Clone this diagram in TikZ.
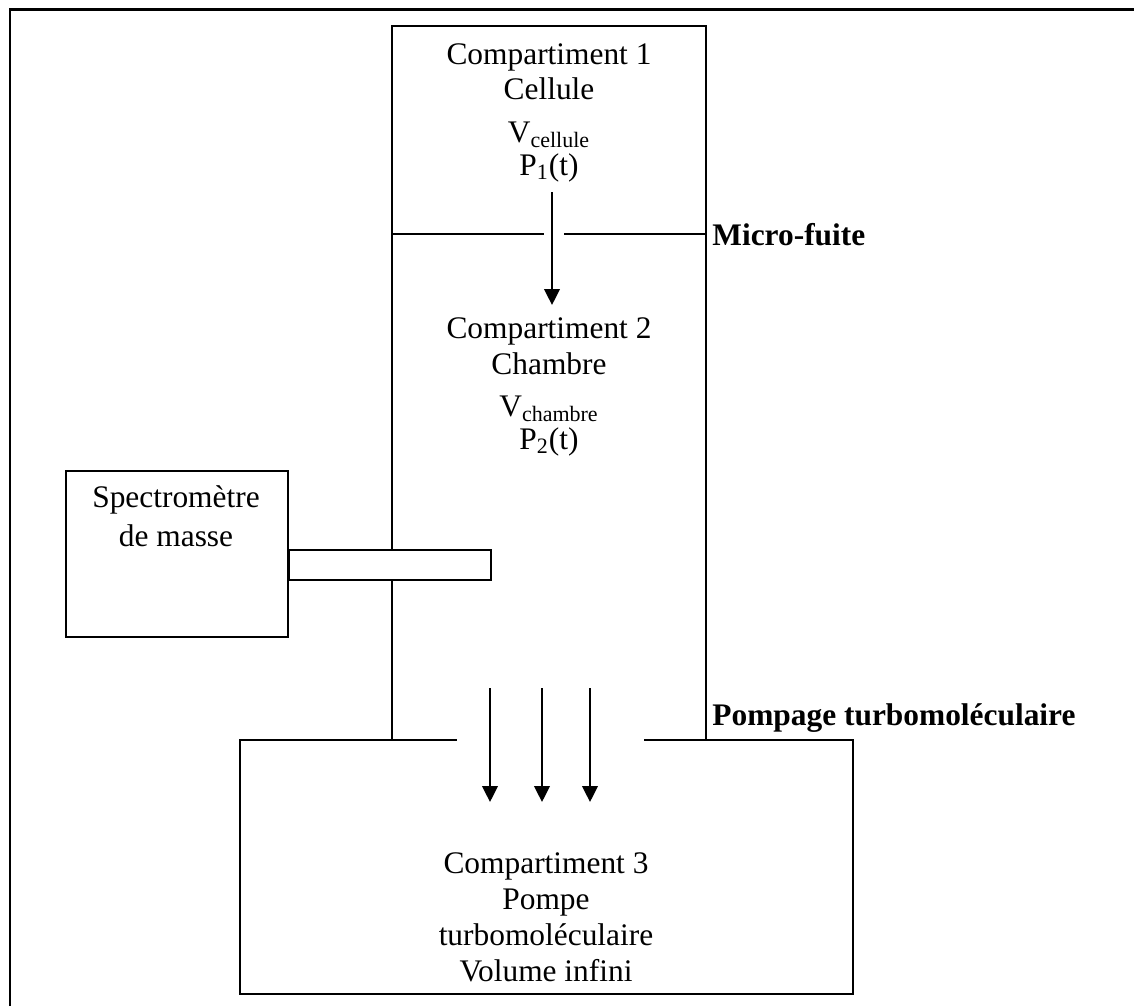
\documentclass[tikz,border=0pt]{standalone}
\usepackage{fontspec}
\setmainfont{Liberation Serif}
\usetikzlibrary{arrows.meta}
\begin{document}
\begin{tikzpicture}[x=0.5pt,y=-0.5pt,
  wall/.style={line width=1pt,line cap=rect},
  flow/.style={line width=1pt,-{Triangle[width=7.8pt,length=8pt]}},
  txt/.style={anchor=base,inner sep=0pt,font=\fontsize{15.7pt}{18pt}\selectfont},
  lbl/.style={anchor=base west,inner sep=0pt,font=\fontsize{15.7pt}{18pt}\selectfont\bfseries}]
\useasboundingbox (0,0) rectangle (1134,1006);
% page frame
\draw[line width=1.2pt] (10,1006) -- (10,9.5) -- (1134,9.5);
% column (compartments 1 and 2)
\draw[wall] (392,550) -- (392,26) -- (706,26) -- (706,740);
\draw[wall] (392,580) -- (392,740);
% micro-leak wall
\draw[wall] (392,234) -- (543,234);
\draw[wall] (565,234) -- (706,234);
% spectrometer
\node[draw,line width=1pt,minimum width=111pt,minimum height=83pt,inner sep=0pt] (spec) at (177,554) {};
\node[draw,line width=1pt,minimum width=101pt,minimum height=15pt,inner sep=0pt,anchor=west] (probe) at (288,565) {};
% bottom box (compartment 3)
\draw[wall] (456,740) -- (240,740) -- (240,994) -- (853,994) -- (853,740) -- (645,740);
% texts compartment 1
\node[txt] (c1a) at (549,65) {Compartiment 1};
\node[txt] (c1b) at (549,100) {Cellule};
\node[txt] (c1c) at (549,142) {V\textsubscript{cellule}};
\node[txt] (c1d) at (549,175) {P\textsubscript{1}(t)};
% texts compartment 2
\node[txt] (c2a) at (549,338) {Compartiment 2};
\node[txt] (c2b) at (549,374) {Chambre};
\node[txt] (c2c) at (549,416) {V\textsubscript{chambre}};
\node[txt] (c2d) at (549,449) {P\textsubscript{2}(t)};
% texts compartment 3
\node[txt] (c3a) at (546,873) {Compartiment 3};
\node[txt] (c3b) at (546,909) {Pompe};
\node[txt] (c3c) at (546,945) {turbomoléculaire};
\node[txt] (c3d) at (546,981) {Volume infini};
% spectrometer text
\node[txt] (sa) at (176,507) {Spectromètre};
\node[txt] (sb) at (176,546) {de masse};
% labels
\node[lbl] (mf) at (712,245) {Micro-fuite};
\node[lbl] (pt) at (712,725) {Pompage turbomoléculaire};
% arrows
\coordinate (a1s) at (552,192); \coordinate (a1e) at (552,305);
\draw[flow] (a1s) -- (a1e);
\coordinate (p1s) at (490,688); \coordinate (p1e) at (490,802);
\coordinate (p2s) at (542,688); \coordinate (p2e) at (542,802);
\coordinate (p3s) at (590,688); \coordinate (p3e) at (590,802);
\draw[flow] (p1s) -- (p1e);
\draw[flow] (p2s) -- (p2e);
\draw[flow] (p3s) -- (p3e);
\end{tikzpicture}
\end{document}
